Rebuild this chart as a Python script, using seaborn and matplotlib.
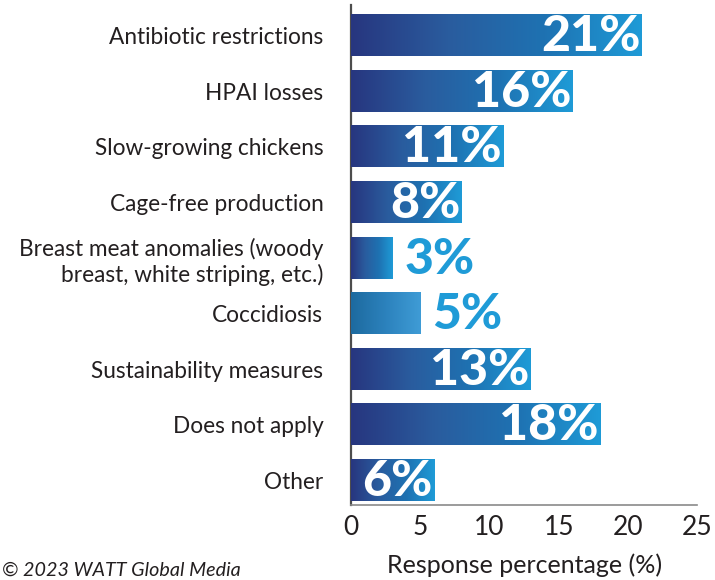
import numpy as np
import pandas as pd
import matplotlib
matplotlib.use("Agg")
import matplotlib.pyplot as plt
from matplotlib.colors import LinearSegmentedColormap
import seaborn as sns

categories = [
    "Antibiotic restrictions",
    "HPAI losses",
    "Slow-growing chickens",
    "Cage-free production",
    "Breast meat anomalies (woody\nbreast, white striping, etc.)",
    "Coccidiosis",
    "Sustainability measures",
    "Does not apply",
    "Other",
]
values = [21, 16, 11, 8, 3, 5, 13, 18, 6]
value_labels = ["21%", "16%", "11%", "8%", "3%", "5%", "13%", "18%", "6%"]
x_ticks = [0, 5, 10, 15, 20, 25]

df = pd.DataFrame({"category": categories, "value": values})

sns.set_theme(style="white")
plt.rcParams["font.family"] = ["Lato", "DejaVu Sans"]

fig = plt.figure(figsize=(7.15, 5.8), dpi=100)
ax = fig.add_axes([0.491, 0.129, 0.484, 0.862])

sns.barplot(data=df, x="value", y="category", orient="h", width=0.74,
            color="#2a5fa0", ax=ax, zorder=2)

navy_to_sky = LinearSegmentedColormap.from_list(
    "navy_sky", ["#27367f", "#2a5c9e", "#1e72b2", "#1f9bd7"])
teal_to_sky = LinearSegmentedColormap.from_list(
    "teal_sky", ["#1d6a9f", "#2c82bd", "#3f9cd6"])
grad = np.linspace(0, 1, 256).reshape(1, -1)

for i, patch in enumerate(ax.patches):
    x0, y0 = patch.get_x(), patch.get_y()
    w, h = patch.get_width(), patch.get_height()
    cmap = teal_to_sky if categories[i] == "Coccidiosis" else navy_to_sky
    ax.imshow(grad, cmap=cmap, aspect="auto", interpolation="bicubic",
              extent=(x0, x0 + w, y0 + h, y0), zorder=3)
    patch.set_visible(False)

    v = values[i]
    yc = y0 + h / 2 + 0.02
    if v >= 6:
        ax.text(x0 + w - 0.1, yc, value_labels[i], ha="right", va="center",
                color="white", fontsize=36, fontweight="black",
                family=["Lato", "DejaVu Sans"], zorder=4)
    else:
        ax.text(x0 + w + 0.85, yc, value_labels[i], ha="left", va="center",
                color="#1f9bd7", fontsize=36, fontweight="black",
                family=["Lato", "DejaVu Sans"], zorder=4)

ax.set_xlim(0, 25)
ax.set_ylim(8.45, -0.55)
ax.set_xticks(x_ticks)
ax.set_xticklabels([str(t) for t in x_ticks], fontsize=19, color="#231f20")
ax.tick_params(axis="y", labelsize=16.3, labelcolor="#231f20", pad=20, length=0)
ax.tick_params(axis="x", length=0, pad=7)
ax.set_ylabel("")
ax.set_xlabel("Response percentage (%)", fontsize=18, color="#231f20", labelpad=10)

for lab in ax.get_yticklabels():
    lab.set_multialignment("right")

for side in ["top", "right"]:
    ax.spines[side].set_visible(False)
ax.spines["left"].set_color("#4d4d4d")
ax.spines["left"].set_linewidth(1.6)
ax.spines["bottom"].set_color("#8a8a8a")
ax.spines["bottom"].set_linewidth(1.2)

fig.text(0.003, 0.003, "\u00a9 2023 WATT Global Media", fontsize=14.2,
         style="italic", color="#231f20", ha="left", va="bottom")

fig.savefig("out.png", dpi=100)
